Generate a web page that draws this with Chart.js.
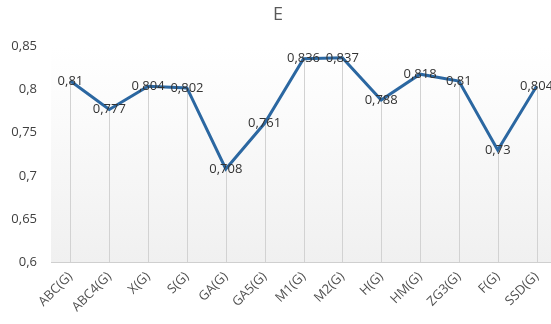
<!DOCTYPE html>
<html><head><meta charset="utf-8">
<script src="https://cdn.jsdelivr.net/npm/chart.js@4.4.1/dist/chart.umd.min.js"></script>
<style>
html,body{margin:0;padding:0;background:#fff;overflow:hidden;width:551px;height:324px;}
#wrap{position:absolute;left:0;top:0;width:573px;height:324px;}
</style></head><body>
<div id="wrap"><canvas id="c" width="573" height="324"></canvas></div>
<script>
const categories = ['ABC(G)','ABC4(G)','X(G)','S(G)','GA(G)','GA5(G)','M1(G)','M2(G)','H(G)','HM(G)','ZG3(G)','F(G)','SSD(G)'];
const eValues = [0.81,0.777,0.804,0.802,0.708,0.761,0.836,0.837,0.788,0.818,0.81,0.73,0.804];
const yTicks = [0.6,0.65,0.7,0.75,0.8,0.85];

const FONT = '"Open Sans", "DejaVu Sans", sans-serif';
const comma = v => String(v).replace('.', ',');

// soft vertical gradient behind the plot area
const plotBackground = {
  id: 'plotBackground',
  beforeDraw(chart) {
    const {ctx, chartArea: a} = chart;
    const g = ctx.createLinearGradient(0, a.top, 0, a.bottom);
    g.addColorStop(0, '#ffffff');
    g.addColorStop(0.3, '#fbfbfb');
    g.addColorStop(1, '#f0f0f0');
    ctx.save();
    ctx.fillStyle = g;
    ctx.fillRect(a.left, a.top, a.right - a.left, a.bottom - a.top);
    ctx.restore();
  }
};

// vertical drop lines from each point to the category axis
const dropLines = {
  id: 'dropLines',
  beforeDatasetsDraw(chart) {
    const {ctx, chartArea: a} = chart;
    const meta = chart.getDatasetMeta(0);
    ctx.save();
    ctx.strokeStyle = '#d2d2d2';
    ctx.lineWidth = 1;
    meta.data.forEach(pt => {
      const x = Math.round(pt.x) + 0.5;
      ctx.beginPath();
      ctx.moveTo(x, pt.y);
      ctx.lineTo(x, a.bottom);
      ctx.stroke();
    });
    ctx.restore();
  }
};

// value labels centred on each point
const valueLabels = {
  id: 'valueLabels',
  afterDatasetsDraw(chart) {
    const {ctx} = chart;
    const meta = chart.getDatasetMeta(0);
    const data = chart.data.datasets[0].data;
    ctx.save();
    ctx.font = '13px ' + FONT;
    ctx.fillStyle = '#333333';
    ctx.textAlign = 'center';
    ctx.textBaseline = 'middle';
    meta.data.forEach((pt, i) => {
      ctx.fillText(comma(data[i]), pt.x, pt.y);
    });
    ctx.restore();
  }
};

new Chart(document.getElementById('c'), {
  type: 'line',
  data: {
    labels: categories,
    datasets: [{
      label: 'E',
      data: eValues,
      borderColor: '#2b67a1',
      borderWidth: 3,
      pointRadius: 0,
      pointHoverRadius: 0,
      tension: 0,
      fill: false
    }]
  },
  options: {
    responsive: false,
    animation: false,
    devicePixelRatio: 1,
    layout: {padding: {left: 0, right: 17, top: 0, bottom: 0}},
    plugins: {
      legend: {display: false},
      tooltip: {enabled: false},
      title: {
        display: true,
        text: 'E',
        color: '#595959',
        font: {family: FONT, size: 18, weight: 'normal'},
        padding: {top: 4, bottom: 21}
      }
    },
    scales: {
      x: {
        offset: true,
        grid: {display: false, drawTicks: false},
        border: {display: true, color: '#cfcfcf', width: 1},
        ticks: {
          color: '#505050',
          font: {family: FONT, size: 13},
          maxRotation: 45,
          minRotation: 45,
          padding: 7,
          autoSkip: false
        },
        afterFit(scale) { scale.height = 62; }
      },
      y: {
        min: 0.6,
        max: 0.85,
        grid: {display: false, drawTicks: false},
        border: {display: false},
        afterBuildTicks(scale) { scale.ticks = yTicks.map(v => ({value: v})); },
        ticks: {
          color: '#404040',
          font: {family: FONT, size: 13},
          padding: 14,
          callback: v => comma(v)
        },
        afterFit(scale) { scale.width = 51; }
      }
    }
  },
  plugins: [plotBackground, dropLines, valueLabels]
});
</script>
</body></html>
